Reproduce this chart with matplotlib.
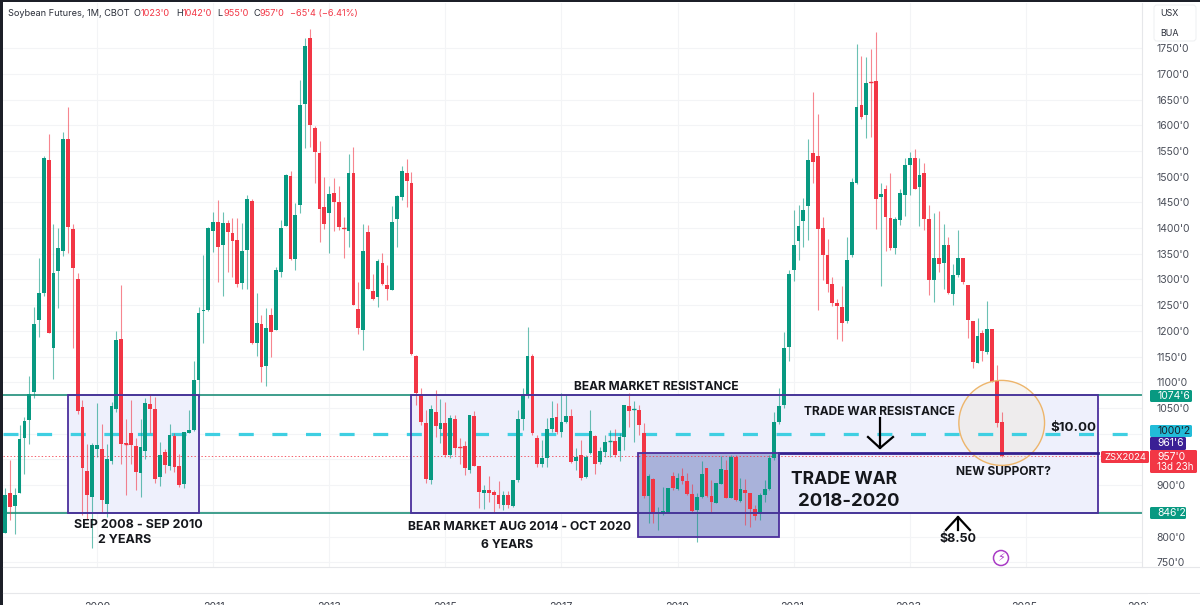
import numpy as np
import pandas as pd
import matplotlib
matplotlib.use("Agg")
import matplotlib.pyplot as plt
from matplotlib.patches import Rectangle, Ellipse, FancyBboxPatch, Circle

plt.rcParams['font.family'] = ['Inter', 'DejaVu Sans']
plt.rcParams['lines.scale_dashes'] = False

# monthly candles, Jun 2007 to Aug 2024
months = pd.period_range('2007-06', periods=207, freq='M')
opens = [806, 884, 860, 885, 991, 1027, 1082, 1221, 1274, 1532,
         1166, 1316, 1356, 1573, 1399, 1300, 1052, 928, 877, 970,
         971, 864, 946, 1049, 1184, 981, 1001, 976, 924, 967,
         1057, 1049, 915, 964, 938, 995, 937, 903, 1001, 1008,
         1104, 1238, 1240, 1395, 1412, 1367, 1409, 1390, 1377, 1294,
         1357, 1453, 1176, 1213, 1132, 1231, 1202, 1315, 1405, 1502,
         1339, 1445, 1641, 1769, 1595, 1547, 1442, 1429, 1468, 1450,
         1400, 1395, 1508, 1242, 1202, 1393, 1278, 1265, 1333, 1290,
         1279, 1418, 1461, 1508, 1487, 1151, 1075, 1020, 910, 1043,
         1009, 1020, 958, 1029, 974, 976, 929, 1034, 937, 885,
         890, 886, 881, 861, 881, 860, 909, 1028, 1075, 1152,
         991, 941, 952, 1010, 1032, 1003, 1023, 1034, 946, 959,
         915, 962, 996, 944, 965, 985, 985, 966, 994, 1053,
         1047, 1047, 1001, 879, 912, 845, 843, 847, 918, 892,
         918, 908, 882, 852, 876, 933, 879, 866, 903, 929,
         875, 955, 870, 890, 884, 853, 843, 881, 892, 952,
         1022, 1055, 1169, 1318, 1374, 1414, 1443, 1547, 1541, 1401,
         1348, 1292, 1254, 1247, 1220, 1348, 1488, 1640, 1620, 1684,
         1686, 1461, 1476, 1419, 1362, 1416, 1464, 1523, 1537, 1480,
         1508, 1418, 1299, 1342, 1333, 1367, 1271, 1309, 1341, 1289,
         1220, 1138, 1195, 1158, 1203, 1102, 1023]
highs = [894, 949, 895, 1017, 1033, 1112, 1247, 1341, 1540, 1584,
         1408, 1401, 1587, 1635, 1408, 1312, 1065, 980, 982, 1059,
         1019, 980, 1062, 1200, 1289, 1028, 1065, 991, 1028, 1069,
         1077, 1072, 984, 971, 1019, 1001, 960, 1004, 1047, 1142,
         1247, 1348, 1403, 1431, 1455, 1431, 1416, 1419, 1419, 1409,
         1464, 1456, 1274, 1231, 1244, 1244, 1325, 1416, 1506, 1512,
         1448, 1689, 1769, 1787, 1599, 1570, 1500, 1482, 1497, 1482,
         1422, 1545, 1557, 1296, 1408, 1406, 1311, 1339, 1351, 1328,
         1443, 1464, 1521, 1534, 1510, 1153, 1088, 1046, 1056, 1085,
         1067, 1062, 1036, 1036, 991, 985, 1037, 1044, 937, 900,
         918, 890, 908, 888, 889, 910, 1046, 1088, 1207, 1155,
         997, 988, 1030, 1064, 1059, 1079, 1075, 1049, 972, 988,
         958, 1046, 997, 975, 997, 1007, 1010, 1001, 1056, 1080,
         1064, 1056, 1020, 921, 913, 858, 897, 895, 926, 923,
         933, 923, 903, 884, 946, 933, 910, 905, 957, 949,
         958, 958, 913, 911, 884, 861, 884, 910, 958, 1043,
         1088, 1198, 1318, 1435, 1445, 1458, 1573, 1665, 1622, 1422,
         1379, 1305, 1263, 1287, 1383, 1497, 1758, 1735, 1733, 1748,
         1782, 1487, 1484, 1508, 1422, 1477, 1536, 1549, 1554, 1537,
         1526, 1445, 1430, 1434, 1408, 1383, 1331, 1397, 1341, 1289,
         1220, 1226, 1202, 1258, 1203, 1134, 1042]
lows = [806, 833, 804, 885, 921, 980, 1069, 1189, 1268, 1195,
        1106, 1244, 1346, 1351, 1167, 1038, 842, 835, 777, 955,
        845, 838, 942, 1043, 942, 881, 942, 890, 877, 950,
        1001, 905, 898, 923, 929, 926, 897, 894, 1001, 1005,
        1072, 1176, 1238, 1354, 1296, 1268, 1315, 1305, 1286, 1281,
        1281, 1175, 1151, 1101, 1093, 1150, 1202, 1305, 1404, 1338,
        1318, 1430, 1555, 1557, 1487, 1372, 1398, 1351, 1395, 1396,
        1341, 1364, 1250, 1194, 1163, 1281, 1261, 1246, 1289, 1260,
        1279, 1364, 1455, 1442, 1153, 1056, 1017, 905, 903, 994,
        981, 955, 952, 958, 942, 920, 923, 937, 855, 853,
        868, 848, 855, 852, 855, 858, 907, 1008, 1070, 997,
        936, 936, 936, 1004, 999, 994, 1020, 943, 929, 909,
        913, 960, 921, 941, 955, 955, 955, 946, 968, 1014,
        984, 997, 874, 827, 827, 813, 842, 845, 890, 890,
        903, 881, 848, 790, 874, 877, 848, 865, 902, 874,
        874, 870, 868, 822, 819, 832, 832, 868, 890, 949,
        1019, 1050, 1142, 1298, 1337, 1364, 1377, 1488, 1241, 1299,
        1276, 1248, 1184, 1181, 1216, 1343, 1486, 1613, 1576, 1578,
        1398, 1287, 1356, 1357, 1350, 1406, 1423, 1464, 1477, 1404,
        1396, 1270, 1257, 1315, 1281, 1272, 1250, 1304, 1291, 1187,
        1128, 1137, 1142, 1156, 1100, 1014, 955]
closes = [881, 857, 881, 990, 1025, 1078, 1213, 1273, 1536, 1195,
          1312, 1362, 1573, 1403, 1323, 1045, 933, 881, 978, 978,
          871, 950, 1054, 1182, 980, 980, 978, 926, 975, 1059,
          1048, 912, 958, 939, 997, 936, 901, 1004, 1007, 1104,
          1234, 1241, 1401, 1411, 1364, 1409, 1393, 1375, 1292, 1356,
          1456, 1177, 1216, 1130, 1205, 1198, 1318, 1401, 1504, 1339,
          1426, 1639, 1755, 1600, 1549, 1437, 1408, 1466, 1451, 1403,
          1399, 1508, 1250, 1205, 1356, 1281, 1263, 1336, 1291, 1282,
          1412, 1463, 1512, 1492, 1155, 1080, 1022, 912, 1048, 1015,
          1021, 958, 1031, 972, 973, 933, 1036, 938, 886, 890,
          885, 881, 863, 881, 861, 910, 1028, 1077, 1151, 1001,
          941, 952, 1010, 1031, 1003, 1022, 1034, 944, 955, 914,
          954, 1006, 942, 966, 984, 986, 959, 994, 1055, 1044,
          1048, 1017, 879, 918, 843, 848, 850, 894, 894, 914,
          908, 882, 850, 876, 922, 879, 868, 905, 931, 875,
          955, 871, 892, 884, 854, 839, 881, 892, 952, 1022,
          1054, 1167, 1310, 1368, 1404, 1435, 1532, 1529, 1398, 1348,
          1291, 1255, 1248, 1216, 1338, 1489, 1635, 1617, 1683, 1683,
          1456, 1466, 1421, 1362, 1418, 1469, 1523, 1537, 1477, 1504,
          1418, 1299, 1341, 1330, 1367, 1273, 1309, 1341, 1296, 1221,
          1140, 1190, 1161, 1203, 1101, 1020, 957]

price_ticks = list(range(750, 1751, 50))
hidden_ticks = [850, 950, 1000]
year_labels = [2009, 2011, 2013, 2015, 2017, 2019, 2021, 2023, 2025, 2027]

resistance = 1074.75
support = 846.25
mid_level = 1000.25
last_close = 957
trade_war_top = 961.75
trade_war_bottom = 799

GREEN = '#089981'
RED = '#F23645'
PURPLE = '#4b2f9c'

x = np.array([(m.year - 2009) * 12 + m.month - 1 for m in months])
o, h, l, c = map(np.array, (opens, highs, lows, closes))
colors = np.where(c >= o, GREEN, RED)


def m_idx(year, month):
    return (year - 2009) * 12 + month - 1


fig = plt.figure(figsize=(12, 6.05), dpi=100)
W, H = 1200, 605
ax = fig.add_axes([3 / W, 1 - 567 / H, (1142 - 3) / W, (567 - 3) / H])
ax.set_xlim((3 - 97) / 4.838, (1142 - 97) / 4.838)
ax.set_ylim(1000 + (433.7 - 567) * 1.9455, 1000 + (433.7 - 3) * 1.9455)

ax.set_yticks(price_ticks)
ax.set_yticklabels(['' if p in hidden_ticks else f"{p}'0" for p in price_ticks])
ax.yaxis.tick_right()
ax.set_xticks([m_idx(y, 1) for y in year_labels[:-1]])
ax.set_xticklabels([])
ax.tick_params(length=0, labelsize=7.5, labelcolor='#4a4e59', pad=10.5)
ax.grid(color='#f3f4f6', lw=0.8)
ax.set_axisbelow(True)
for side in ['top', 'left', 'bottom']:
    ax.spines[side].set_visible(False)
ax.spines['right'].set_color('#e6e7ea')
ax.spines['right'].set_linewidth(0.8)

# drawn boxes
box_fill = '#eef0fc'
x_small0 = (68 - 97) / 4.838
x_small1 = (199 - 97) / 4.838
x_bear = (411 - 97) / 4.838
x_end = (1098 - 97) / 4.838
x_tw0 = (638.3 - 97) / 4.838
x_tw1 = (779 - 97) / 4.838
ax.add_patch(Rectangle((x_small0, support), x_small1 - x_small0, resistance - support,
                       fc=box_fill, ec='none', zorder=1))
ax.add_patch(Rectangle((x_bear, support), x_end - x_bear, resistance - support,
                       fc=box_fill, ec='none', zorder=1))
ax.add_patch(Rectangle((x_tw0, trade_war_bottom), x_tw1 - x_tw0, trade_war_top - trade_war_bottom,
                       fc='#a9b2da', ec='none', zorder=1.2))

# levels
ax.axhline(resistance, color='#2f9683', lw=1.3, zorder=1.5)
ax.axhline(support, color='#2f9683', lw=1.3, zorder=1.5)
ax.axhline(last_close, color=RED, lw=0.7, ls=(0, (1, 1.5)), zorder=1.5, alpha=0.8)

# circle round the last two candles, fill under the candles
ax.add_patch(Ellipse((m_idx(2024, 8), 1021), 85.7 / 4.838, 85 * 1.9455,
                     fc='#efe6d8', ec='none', alpha=0.4, zorder=1.55))
ax.plot(ax.get_xlim(), [mid_level, mid_level], color='#3fcfe2', lw=2.3,
        dashes=(10.8, 13.4), dash_capstyle='butt', zorder=1.6)

# candles
ax.vlines(x, l, h, colors=colors, lw=0.8, alpha=0.6, zorder=3)
ax.bar(x, c - o, bottom=o, width=0.78, color=colors, lw=0, zorder=3.1)
doji = np.abs(c - o) < 3
ax.hlines((o + c)[doji] / 2, x[doji] - 0.39, x[doji] + 0.39, colors=colors[doji], lw=1, zorder=3.1)

# box outlines over the candles
for x0, x1, y0, y1 in [(x_small0, x_small1, support, resistance),
                       (x_bear, x_end, support, resistance),
                       (x_tw0, x_tw1, trade_war_bottom, trade_war_top)]:
    ax.add_patch(Rectangle((x0, y0), x1 - x0, y1 - y0, fc='none', ec=PURPLE, lw=1.3, zorder=4))
ax.plot([x_tw1, x_end], [trade_war_top, trade_war_top], color='#33208f', lw=2, zorder=4)
ax.plot([x_tw1, x_tw1], [support, trade_war_top], color=PURPLE, lw=1.3, zorder=4)
ax.add_patch(Ellipse((m_idx(2024, 8), 1021), 85.7 / 4.838, 85 * 1.9455,
                     fc='none', ec='#edb56b', lw=1, zorder=3.6))

# everything placed in screen pixels goes on an overlay
ov = fig.add_axes([0, 0, 1, 1], zorder=5)
ov.set_xlim(0, W)
ov.set_ylim(H, 0)
ov.axis('off')

ov.add_patch(Rectangle((0, 0), W, 2, fc='#1c1f28', ec='none'))
ov.add_patch(Rectangle((0, 0), 2.5, H, fc='#1c1f28', ec='none'))
ov.plot([3, W], [567, 567], color='#e6e7ea', lw=0.8)
ov.plot([3, W], [593, 593], color='#e6e7ea', lw=0.8)

ov.text(8.5, 13.5, 'Soybean Futures, 1M, CBOT', fontsize=6.6, color='#2a2e39', va='center')
hdr = [(134, 'O', '#2a2e39'), (141, "1023'0", RED), (176, 'H', '#2a2e39'), (183, "1042'0", RED),
       (217, 'L', '#2a2e39'), (223, "955'0", RED), (253, 'C', '#2a2e39'), (260, "957'0", RED),
       (290, "\u221265'4 (\u22126.41%)", RED)]
for hx, s, col in hdr:
    ov.text(hx, 13.5, s, fontsize=6.6, color=col, va='center')

for y in year_labels:
    ov.text(97.7 + (y - 2009) * 57.9, 607, str(y), fontsize=7.6, color='#3a3e49', ha='center', va='center')
ov.add_patch(Rectangle((1148, 594), 52, 11, fc='white', ec='none', zorder=3))

ov.add_patch(FancyBboxPatch((1154, 5), 42, 36, boxstyle='round,pad=0,rounding_size=3', fc='white',
                            ec='#f0f1f3', lw=0.8))
ov.text(1160, 14, 'USX', fontsize=6.4, color='#2a2e39', va='center')
ov.text(1160, 33, 'BUA', fontsize=6.4, color='#2a2e39', va='center')

bold = dict(fontweight='bold', color='#15171c', ha='center', va='center')
ov.text(138, 525, 'SEP 2008 - SEP 2010', fontsize=9, **bold)
ov.text(125, 540, '2 YEARS', fontsize=9, **bold)
ov.text(656, 387, 'BEAR MARKET RESISTANCE', fontsize=8.6, **bold)
ov.text(520, 527, 'BEAR MARKET AUG 2014 - OCT 2020', fontsize=8.8, **bold)
ov.text(507, 545, '6 YEARS', fontsize=8.8, **bold)
ov.text(880, 412, 'TRADE WAR RESISTANCE', fontsize=8.6, **bold)
ov.text(844.5, 480, 'TRADE WAR', fontsize=12.6, **bold)
ov.text(848.5, 502, '2018-2020', fontsize=13.4, **bold)
ov.text(1003, 472, 'NEW SUPPORT?', fontsize=8.6, **bold)
ov.text(1073, 428, '$10.00', fontsize=9.6, **bold)
ov.text(958, 539, '$8.50', fontsize=9, **bold)

# hand drawn arrows
ov.plot([880, 880], [418, 448], color='black', lw=1.6)
ov.plot([868, 880, 893], [437, 448, 437], color='black', lw=1.6)
ov.plot([958, 958], [517, 530], color='black', lw=1.6)
ov.plot([946, 958, 970], [530, 517, 530], color='black', lw=1.6)

ov.add_patch(Circle((1001, 558), 7.5, fc='white', ec='#a93cc6', lw=1.1))
ov.text(1001, 558, '\u26a1', fontsize=8, color='#a93cc6', ha='center', va='center',
        family='DejaVu Sans')

# price scale tags
tags = [(1150, 390, 42, 12, GREEN, "1074'6", 'white'),
        (1150, 507, 36, 12, GREEN, "846'2", 'white'),
        (1150, 425, 42, 12, '#22bcd8', "1000'2", '#1c1f28'),
        (1150, 437, 36, 13, '#3a1f95', "961'6", 'white'),
        (1101, 451, 48, 12, RED, 'ZSX2024', 'white')]
for tx, ty, tw, th, col, s, tc in tags:
    ov.add_patch(FancyBboxPatch((tx, ty), tw, th, boxstyle='round,pad=0,rounding_size=1.5', fc=col, ec='none'))
    ov.text(tx + 7 if tx > 1140 else tx + tw / 2, ty + th / 2, s, fontsize=7.5 if tx > 1140 else 6.8,
            color=tc, va='center', ha='left' if tx > 1140 else 'center')
ov.add_patch(FancyBboxPatch((1150, 450), 47, 23, boxstyle='round,pad=0,rounding_size=1.5', fc=RED, ec='none'))
ov.text(1157, 456.5, "957'0", fontsize=7.5, color='white', va='center')
ov.text(1157, 467, '13d 23h', fontsize=7, color='white', va='center')

fig.savefig('out.png', dpi=100)
